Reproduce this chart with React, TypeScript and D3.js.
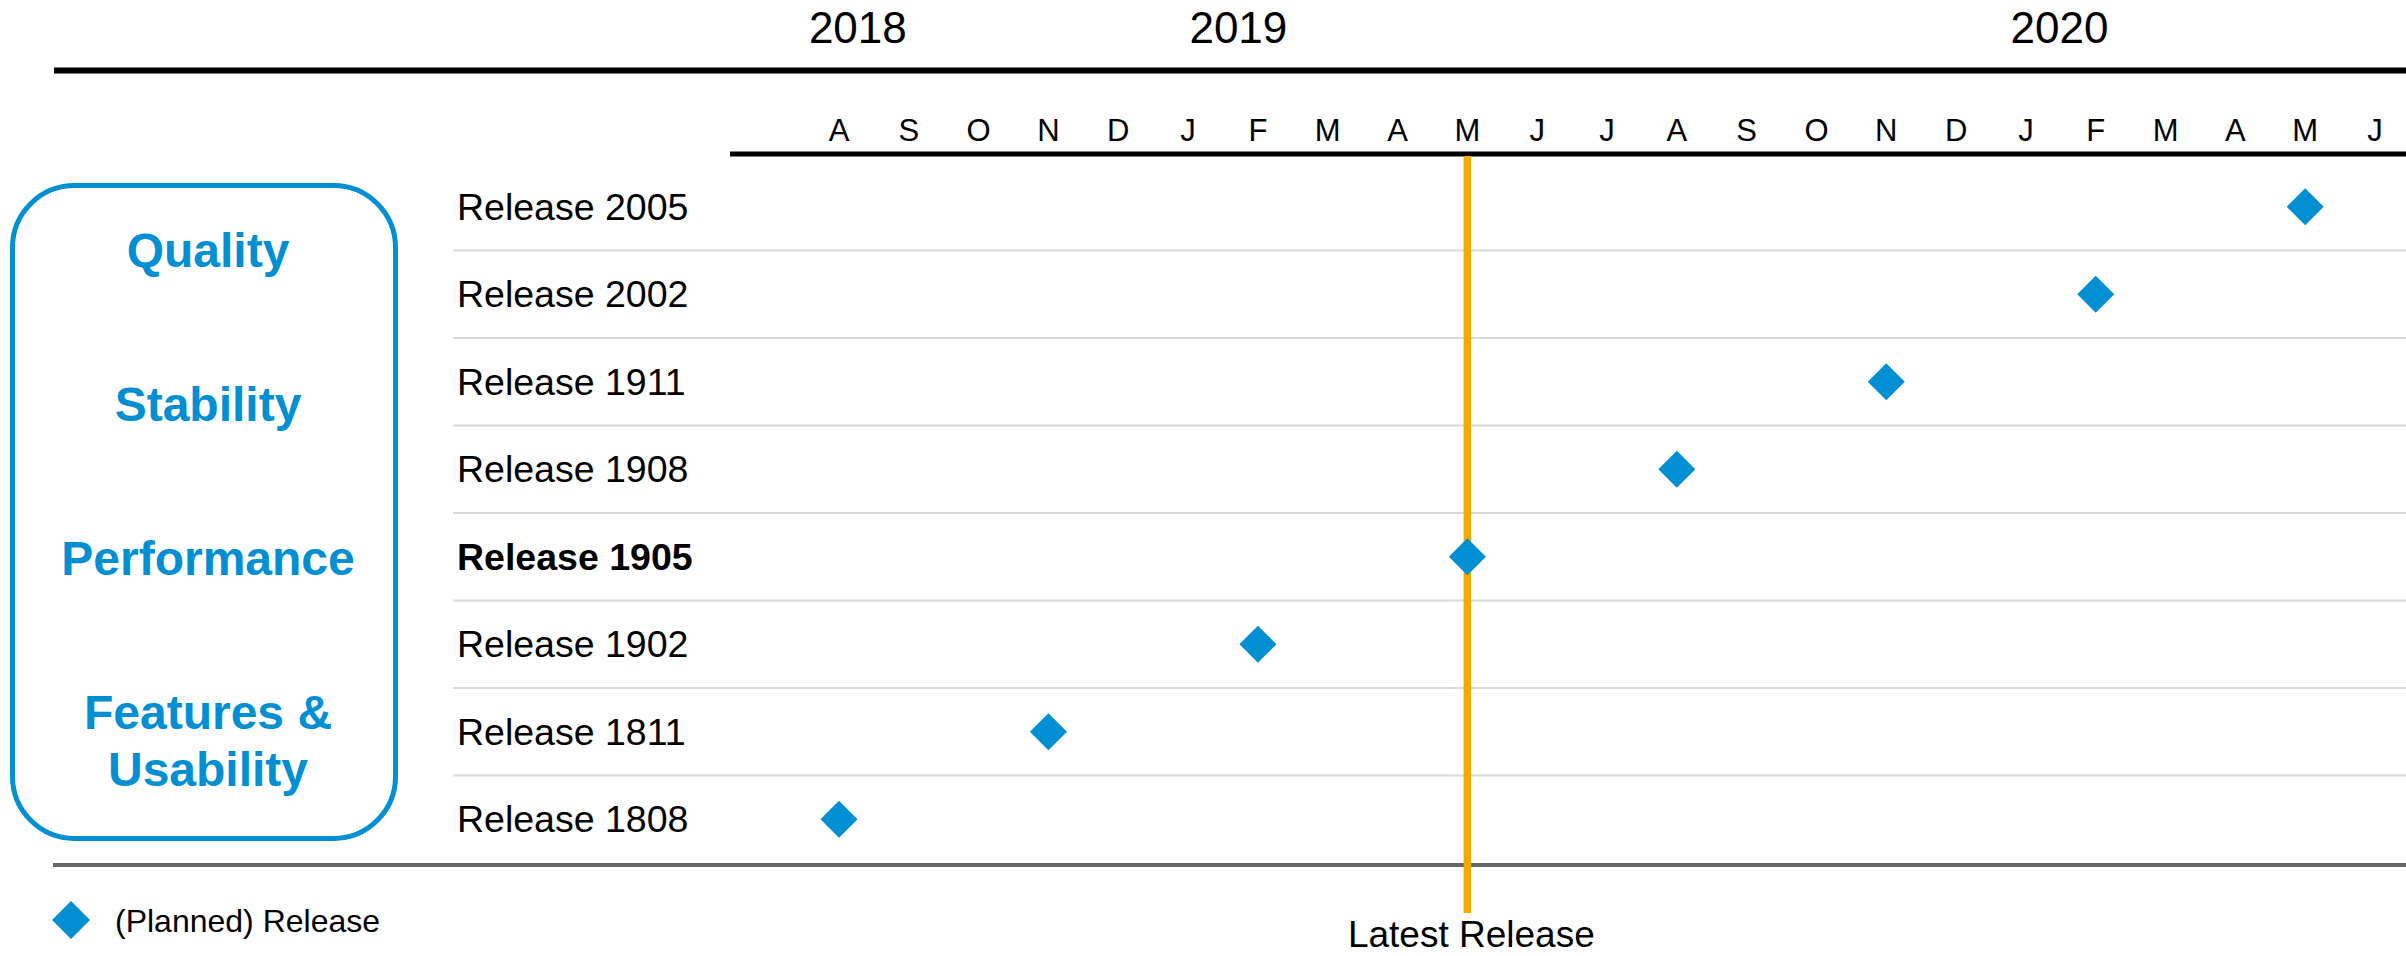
import React, { useEffect, useRef } from 'react';
import * as d3 from 'd3';

// Timeline months (Aug 2018 – Jun 2020)
const months = [
  "2018-08", "2018-09", "2018-10", "2018-11", "2018-12",
  "2019-01", "2019-02", "2019-03", "2019-04", "2019-05", "2019-06",
  "2019-07", "2019-08", "2019-09", "2019-10", "2019-11", "2019-12",
  "2020-01", "2020-02", "2020-03", "2020-04", "2020-05", "2020-06",
];
const monthLabels = ["A", "S", "O", "N", "D", "J", "F", "M", "A", "M", "J", "J", "A", "S", "O", "N", "D", "J", "F", "M", "A", "M", "J"];

const years = ["2018", "2019", "2020"];
// month each year label sits near, plus fraction of a month step
const yearAnchors = ["2018-08", "2019-01", "2020-01"];
const yearOffsets = [0.27, 0.72, 0.48];

const releases = [
  "Release 2005", "Release 2002", "Release 1911", "Release 1908",
  "Release 1905", "Release 1902", "Release 1811", "Release 1808",
];
const releaseMonths = [
  "2020-05", "2020-02", "2019-11", "2019-08",
  "2019-05", "2019-02", "2018-11", "2018-08",
];
const latestRelease = "Release 1905";

const focusAreas = [["Quality"], ["Stability"], ["Performance"], ["Features &", "Usability"]];

const BLUE = "#008FD3";
const GOLD = "#F0AB00";
const FONT = "'Liberation Sans', Arial, Helvetica, sans-serif";

const App: React.FC = () => {
  const ref = useRef<SVGSVGElement>(null);

  useEffect(() => {
    if (!ref.current) return;
    const svg = d3.select(ref.current);
    svg.selectAll("*").remove();

    const W = 2406;
    const x = d3.scalePoint<string>().domain(months).range([839, 2375]);
    const y = d3.scaleBand<string>().domain(releases).range([163, 863]).padding(0);
    const rowMid = (r: string) => (y(r) as number) + y.bandwidth() / 2;

    // top rule + year labels
    svg.append("line")
      .attr("x1", 54).attr("x2", W).attr("y1", 70.5).attr("y2", 70.5)
      .style("stroke", "#000").style("stroke-width", 6);

    svg.selectAll(".year")
      .data(years)
      .enter()
      .append("text")
      .attr("x", (d, i) => (x(yearAnchors[i]) as number) + x.step() * yearOffsets[i])
      .attr("y", 43)
      .attr("text-anchor", "middle")
      .style("font-family", FONT)
      .style("font-size", "44px")
      .style("fill", "#000")
      .text(d => d);

    // month axis
    svg.append("line")
      .attr("x1", 730).attr("x2", W).attr("y1", 154).attr("y2", 154)
      .style("stroke", "#000").style("stroke-width", 5);

    svg.selectAll(".month")
      .data(months)
      .enter()
      .append("text")
      .attr("x", d => x(d) as number)
      .attr("y", 141)
      .attr("text-anchor", "middle")
      .style("font-family", FONT)
      .style("font-size", "31px")
      .style("fill", "#000")
      .text((d, i) => monthLabels[i]);

    // row separators
    svg.selectAll(".sep")
      .data(releases.slice(1))
      .enter()
      .append("line")
      .attr("x1", 453).attr("x2", W)
      .attr("y1", d => y(d) as number).attr("y2", d => y(d) as number)
      .style("stroke", "#d9d9d9").style("stroke-width", 2);

    // bottom rule
    svg.append("line")
      .attr("x1", 53).attr("x2", W)
      .attr("y1", y.range()[1] + 2).attr("y2", y.range()[1] + 2)
      .style("stroke", "#666").style("stroke-width", 4);

    // release labels
    svg.selectAll(".rel")
      .data(releases)
      .enter()
      .append("text")
      .attr("x", 457)
      .attr("y", d => rowMid(d) + 13)
      .style("font-family", FONT)
      .style("font-size", "37.5px")
      .style("font-weight", d => (d === latestRelease ? "bold" : "normal"))
      .style("fill", "#000")
      .text(d => d);

    // latest release marker
    const lx = x(releaseMonths[releases.indexOf(latestRelease)]) as number;
    svg.append("line")
      .attr("x1", lx).attr("x2", lx).attr("y1", 156).attr("y2", 913)
      .style("stroke", GOLD).style("stroke-width", 7.5);

    svg.append("text")
      .attr("x", lx + 4)
      .attr("y", 947)
      .attr("text-anchor", "middle")
      .style("font-family", FONT)
      .style("font-size", "37px")
      .style("fill", "#000")
      .text("Latest Release");

    // diamonds
    const diamond = (cx: number, cy: number, r: number) =>
      `M${cx},${cy - r}L${cx + r},${cy}L${cx},${cy + r}L${cx - r},${cy}Z`;

    svg.selectAll(".dia")
      .data(releases)
      .enter()
      .append("path")
      .attr("d", (d, i) => diamond(x(releaseMonths[i]) as number, rowMid(d), 18.5))
      .style("fill", BLUE);

    // focus box
    svg.append("rect")
      .attr("x", 12.5).attr("y", 185.5)
      .attr("width", 383).attr("height", 653)
      .attr("rx", 62).attr("ry", 62)
      .style("fill", "none")
      .style("stroke", BLUE)
      .style("stroke-width", 5);

    const areaLines: { text: string; y: number }[] = [];
    focusAreas.forEach((lines, gi) => {
      lines.forEach((t, li) => areaLines.push({ text: t, y: 267 + gi * 154 + li * 57 }));
    });

    svg.selectAll(".area")
      .data(areaLines)
      .enter()
      .append("text")
      .attr("x", 208)
      .attr("y", d => d.y)
      .attr("text-anchor", "middle")
      .style("font-family", FONT)
      .style("font-size", "48px")
      .style("font-weight", "bold")
      .style("fill", BLUE)
      .text(d => d.text);

    // legend
    svg.append("path")
      .attr("d", diamond(71, 920, 19))
      .style("fill", BLUE);

    svg.append("text")
      .attr("x", 115)
      .attr("y", 932)
      .style("font-family", FONT)
      .style("font-size", "32px")
      .style("fill", "#000")
      .text("(Planned) Release");
  }, []);

  return (
    <svg
      ref={ref}
      width={2406}
      height={956}
      style={{ position: 'absolute', left: 0, top: 0, background: '#fff', display: 'block' }}
    />
  );
};

export default App;
